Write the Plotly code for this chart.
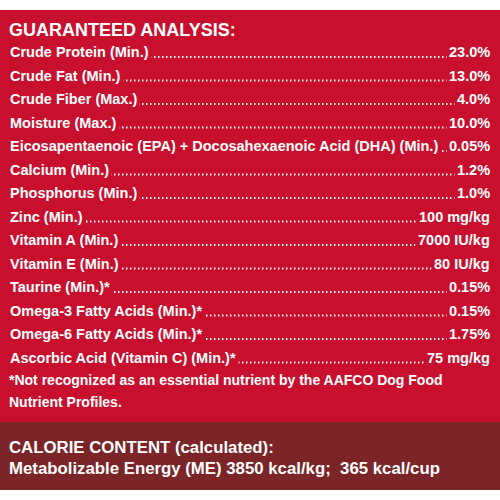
import plotly.graph_objects as go

names = ["Crude Protein (Min.)", "Crude Fat (Min.)", "Crude Fiber (Max.)", "Moisture (Max.)",
         "Eicosapentaenoic (EPA) + Docosahexaenoic Acid (DHA) (Min.)", "Calcium (Min.)",
         "Phosphorus (Min.)", "Zinc (Min.)", "Vitamin A (Min.)", "Vitamin E (Min.)",
         "Taurine (Min.)*", "Omega-3 Fatty Acids (Min.)*", "Omega-6 Fatty Acids (Min.)*",
         "Ascorbic Acid (Vitamin C) (Min.)*"]
values = ["23.0%", "13.0%", "4.0%", "10.0%", "0.05%", "1.2%", "1.0%", "100 mg/kg",
          "7000 IU/kg", "80 IU/kg", "0.15%", "0.15%", "1.75%", "75 mg/kg"]
title = "GUARANTEED ANALYSIS:"
footnote = ["*Not recognized as an essential nutrient by the AAFCO Dog Food", "Nutrient Profiles."]
calorie = ["CALORIE CONTENT (calculated):", "Metabolizable Energy (ME) 3850 kcal/kg;  365 kcal/cup"]

RED = "#c8102e"; MAROON = "#7b2528"
FONT = "Liberation Sans Narrow, Liberation Sans, Arial, sans-serif"
fig = go.Figure()
shapes = [dict(type="rect", x0=0, x1=500, y0=10, y1=422, fillcolor=RED, line_width=0, layer="below"),
          dict(type="rect", x0=0, x1=500, y0=422, y1=490, fillcolor=MAROON, line_width=0, layer="below")]
ann = []
ann.append(dict(x=7, y=30, text="<b>%s</b>" % title, xanchor="left", yanchor="middle", showarrow=False,
                font=dict(family=FONT, size=18, color="white")))
for i, (n, v) in enumerate(zip(names, values)):
    y = 52 + i * 23.5
    fig.add_trace(go.Scatter(x=[10, 488], y=[y + 5, y + 5], mode="lines",
                             line=dict(color="white", width=1.8, dash="1.5px,2.5px"),
                             hoverinfo="skip", showlegend=False))
    ann.append(dict(x=7, y=y, text="<b>%s</b>" % n, xanchor="left", yanchor="middle", showarrow=False,
                    bgcolor=RED, borderpad=2, font=dict(family=FONT, size=14.5, color="white")))
    ann.append(dict(x=493, y=y, text="<b>%s</b>" % v, xanchor="right", yanchor="middle", showarrow=False,
                    bgcolor=RED, borderpad=2, font=dict(family=FONT, size=14.5, color="white")))
for j, t in enumerate(footnote):
    ann.append(dict(x=7, y=380 + j * 22, text="<b>%s</b>" % t, xanchor="left", yanchor="middle",
                    showarrow=False, font=dict(family=FONT, size=14, color="white")))
for j, t in enumerate(calorie):
    ann.append(dict(x=7, y=447 + j * 21, text="<b>%s</b>" % t, xanchor="left", yanchor="middle",
                    showarrow=False, font=dict(family=FONT, size=16.8, color="white")))
fig.update_layout(width=500, height=500, margin=dict(l=0, r=0, t=0, b=0),
                  paper_bgcolor="white", plot_bgcolor="white", shapes=shapes, annotations=ann,
                  xaxis=dict(range=[0, 500], visible=False, fixedrange=True),
                  yaxis=dict(range=[500, 0], visible=False, fixedrange=True))
fig.write_html("out.html", config={"displayModeBar": False},
               post_script="document.body.style.margin='0';document.body.style.padding='0';")
